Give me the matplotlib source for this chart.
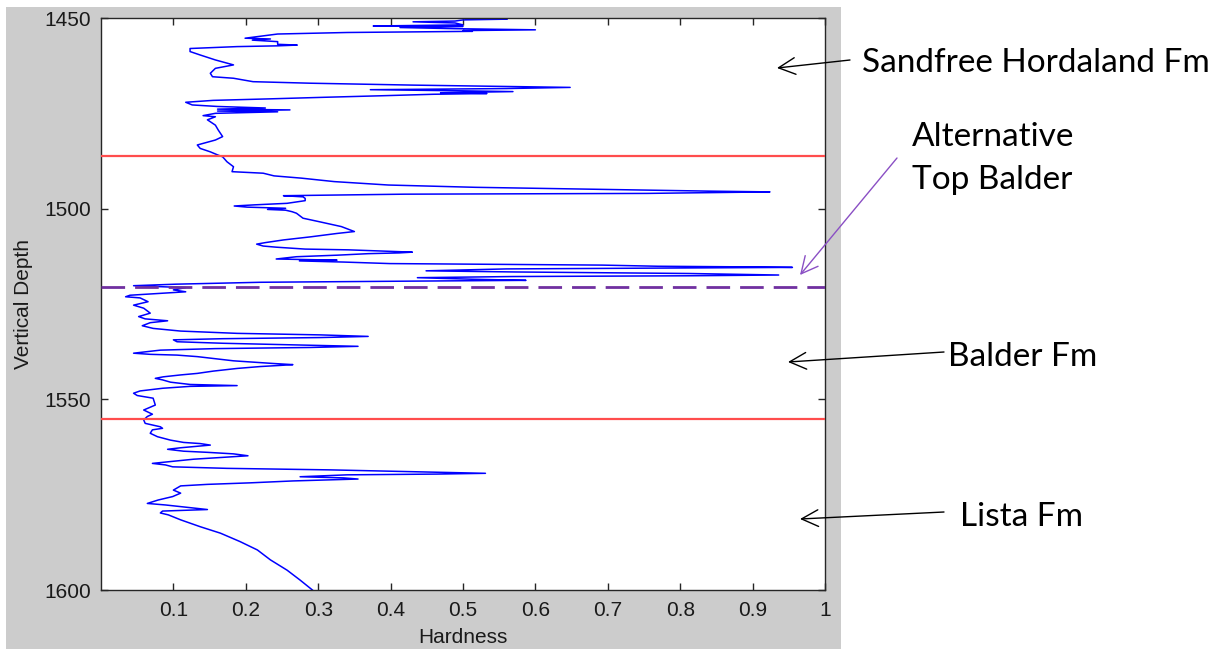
import matplotlib
matplotlib.use("Agg")
import matplotlib.pyplot as plt
from matplotlib.patches import Rectangle, FancyArrowPatch

# ---------------------------------------------------------------
# Hardness log versus vertical depth
# ---------------------------------------------------------------
depth_m = [
    1450.0, 1450.1, 1450.3, 1450.5, 1450.8, 1451.0, 1451.3, 1451.8, 1452.1, 1452.2,
    1452.5, 1452.8, 1453.0, 1453.1, 1453.3, 1453.5, 1453.8, 1454.2, 1455.3, 1455.5,
    1455.8, 1456.0, 1456.2, 1456.9, 1457.1, 1457.3, 1457.5, 1458.0, 1458.8, 1459.7,
    1461.0, 1462.3, 1463.2, 1464.5, 1465.4, 1465.8, 1466.7, 1467.1, 1467.6, 1468.0,
    1468.2, 1468.5, 1468.8, 1469.1, 1469.3, 1469.6, 1469.8, 1470.0, 1470.4, 1470.8,
    1471.2, 1471.6, 1472.1, 1472.8, 1473.2, 1473.6, 1473.9, 1474.1, 1474.4, 1474.6,
    1475.0, 1475.6, 1475.9, 1476.7, 1478.1, 1479.4, 1481.1, 1482.0, 1483.3, 1484.2,
    1485.1, 1485.9, 1486.4, 1487.7, 1489.0, 1490.3, 1490.7, 1491.4, 1492.0, 1492.9,
    1493.8, 1494.4, 1494.9, 1495.4, 1495.6, 1495.8, 1496.0, 1496.2, 1496.6, 1496.9,
    1497.3, 1497.9, 1498.6, 1499.0, 1499.3, 1499.6, 1499.9, 1500.2, 1500.4, 1500.8,
    1501.2, 1502.5, 1503.4, 1504.7, 1506.0, 1506.5, 1507.4, 1508.2, 1508.9, 1509.3,
    1509.8, 1510.1, 1510.6, 1510.8, 1511.2, 1511.4, 1511.6, 1511.8, 1512.2, 1512.6,
    1513.2, 1513.5, 1513.7, 1514.0, 1514.4, 1514.8, 1515.1, 1515.3, 1515.4, 1515.6,
    1515.8, 1516.3, 1516.6, 1517.0, 1517.4, 1517.6, 1517.8, 1518.1, 1518.5, 1518.8,
    1519.0, 1519.3, 1519.8, 1520.2, 1520.7, 1521.3, 1521.8, 1522.7, 1523.1, 1523.4,
    1524.4, 1525.3, 1526.1, 1527.4, 1528.3, 1528.9, 1529.4, 1529.9, 1530.7, 1531.4,
    1532.1, 1532.7, 1533.1, 1533.5, 1533.8, 1534.1, 1534.4, 1534.9, 1535.3, 1535.8,
    1536.1, 1536.4, 1536.7, 1537.1, 1537.5, 1537.9, 1538.2, 1538.4, 1538.8, 1539.2,
    1539.9, 1540.6, 1540.9, 1541.1, 1541.4, 1541.9, 1542.6, 1543.2, 1543.6, 1544.1,
    1544.5, 1544.9, 1545.5, 1546.1, 1546.4, 1546.6, 1547.1, 1547.8, 1548.4, 1549.0,
    1549.7, 1551.5, 1552.8, 1553.9, 1554.5, 1555.4, 1556.3, 1557.2, 1557.6, 1558.0,
    1558.9, 1559.8, 1560.7, 1561.3, 1561.6, 1562.0, 1562.7, 1563.1, 1563.6, 1563.9,
    1564.3, 1564.8, 1565.2, 1565.7, 1566.4, 1566.8, 1567.2, 1567.7, 1568.1, 1568.5,
    1569.1, 1569.4, 1569.6, 1569.8, 1570.3, 1570.6, 1570.9, 1571.4, 1571.9, 1572.3,
    1572.7, 1573.8, 1574.6, 1575.5, 1576.4, 1577.3, 1577.7, 1578.4, 1578.9, 1579.3,
    1579.8, 1580.3, 1581.6, 1583.4, 1585.1, 1587.3, 1589.5, 1592.1, 1594.8, 1597.4,
    1600.0,
]

hardness = [
    0.600, 0.503, 0.561, 0.500, 0.489, 0.431, 0.489, 0.500, 0.376, 0.500,
    0.413, 0.489, 0.561, 0.600, 0.500, 0.513, 0.340, 0.244, 0.199, 0.234,
    0.209, 0.227, 0.244, 0.244, 0.271, 0.244, 0.188, 0.123, 0.123, 0.137,
    0.158, 0.183, 0.158, 0.151, 0.154, 0.183, 0.210, 0.289, 0.431, 0.575,
    0.648, 0.560, 0.372, 0.500, 0.569, 0.469, 0.533, 0.459, 0.386, 0.307,
    0.234, 0.155, 0.117, 0.126, 0.161, 0.227, 0.161, 0.261, 0.161, 0.244,
    0.158, 0.141, 0.158, 0.147, 0.158, 0.162, 0.168, 0.158, 0.133, 0.137,
    0.151, 0.161, 0.168, 0.174, 0.183, 0.181, 0.224, 0.239, 0.277, 0.322,
    0.397, 0.517, 0.680, 0.840, 0.924, 0.840, 0.754, 0.419, 0.252, 0.279,
    0.282, 0.282, 0.257, 0.212, 0.184, 0.202, 0.255, 0.230, 0.255, 0.264,
    0.270, 0.279, 0.301, 0.332, 0.350, 0.326, 0.289, 0.252, 0.227, 0.215,
    0.224, 0.242, 0.282, 0.342, 0.399, 0.430, 0.412, 0.369, 0.326, 0.270,
    0.242, 0.326, 0.274, 0.335, 0.399, 0.692, 0.769, 0.917, 0.955, 0.769,
    0.560, 0.449, 0.572, 0.812, 0.936, 0.812, 0.567, 0.437, 0.513, 0.587,
    0.430, 0.221, 0.104, 0.045, 0.117, 0.100, 0.117, 0.040, 0.034, 0.054,
    0.065, 0.045, 0.059, 0.068, 0.052, 0.061, 0.092, 0.068, 0.057, 0.072,
    0.110, 0.188, 0.303, 0.369, 0.303, 0.168, 0.100, 0.105, 0.169, 0.289,
    0.355, 0.289, 0.158, 0.082, 0.063, 0.045, 0.068, 0.105, 0.133, 0.151,
    0.183, 0.238, 0.265, 0.248, 0.220, 0.188, 0.155, 0.133, 0.110, 0.086,
    0.075, 0.085, 0.096, 0.123, 0.188, 0.123, 0.085, 0.054, 0.045, 0.050,
    0.072, 0.075, 0.059, 0.071, 0.064, 0.059, 0.061, 0.082, 0.085, 0.071,
    0.068, 0.078, 0.096, 0.114, 0.137, 0.151, 0.110, 0.092, 0.114, 0.147,
    0.183, 0.203, 0.169, 0.128, 0.092, 0.071, 0.089, 0.099, 0.174, 0.317,
    0.459, 0.531, 0.464, 0.340, 0.275, 0.335, 0.355, 0.265, 0.206, 0.147,
    0.110, 0.100, 0.110, 0.099, 0.079, 0.064, 0.089, 0.123, 0.147, 0.085,
    0.082, 0.093, 0.110, 0.137, 0.165, 0.192, 0.216, 0.234, 0.257, 0.275,
    0.292,
]

# Formation boundaries (m)
top_balder_depth = 1486.2
alt_top_balder_depth = 1520.6
top_lista_depth = 1555.1

x_ticks = [0.1, 0.2, 0.3, 0.4, 0.5, 0.6, 0.7, 0.8, 0.9, 1.0]
x_tick_labels = ["0.1", "0.2", "0.3", "0.4", "0.5", "0.6", "0.7", "0.8", "0.9", "1"]
y_ticks = [1450, 1500, 1550, 1600]

formation_labels = ["Sandfree Hordaland Fm", "Alternative\nTop Balder", "Balder Fm", "Lista Fm"]

# ---------------------------------------------------------------
W, H = 1226, 651
fig = plt.figure(figsize=(W / 100, H / 100), dpi=100)
fig.patch.set_facecolor("white")

tick_font = ["Liberation Sans", "DejaVu Sans"]
note_font = ["Lato", "DejaVu Sans"]


def fx(px):
    return px / W


def fy(py):
    return 1 - py / H


# grey plotting window behind the axes
fig.add_artist(Rectangle((fx(6), fy(649)), fx(841) - fx(6), fy(7) - fy(649),
                         transform=fig.transFigure, facecolor="#cccccc",
                         edgecolor="none", zorder=-5))

ax = fig.add_axes([fx(101), fy(590), fx(825) - fx(101), fy(18) - fy(590)])
ax.set_facecolor("white")

ax.plot(hardness, depth_m, color="#0000ff", lw=1.1, zorder=2)

ax.axhline(top_balder_depth, color="#ff4d4d", lw=1.6, zorder=3)
ax.axhline(top_lista_depth, color="#ff4d4d", lw=1.6, zorder=3)
ax.axhline(alt_top_balder_depth, color="#7030a0", lw=2.0, zorder=3,
           linestyle=(0, (8.5, 3.6)), dash_capstyle="butt")

ax.set_xlim(0, 1)
ax.set_ylim(1600, 1450)
ax.set_xticks(x_ticks)
ax.set_xticklabels(x_tick_labels)
ax.set_yticks(y_ticks)

for sp in ax.spines.values():
    sp.set_color("#262626")
    sp.set_linewidth(1.0)

ax.tick_params(direction="in", length=5, width=1.0, color="#262626",
               top=True, right=True, labelsize=15, labelcolor="#1a1a1a")
ax.tick_params(axis="x", pad=8)
ax.tick_params(axis="y", pad=7)
for lab in ax.get_xticklabels() + ax.get_yticklabels():
    lab.set_family(tick_font)

ax.set_xlabel("Hardness", fontsize=15, family=tick_font, color="#1a1a1a", labelpad=6)
ax.set_ylabel("Vertical Depth", fontsize=15, family=tick_font, color="#1a1a1a", labelpad=8)

# formation notes with arrows
note_kw = dict(fontsize=24, family=note_font, color="black", ha="left", va="baseline")
alt_line1, alt_line2 = formation_labels[1].split("\n")
fig.text(fx(862), fy(72), formation_labels[0], **note_kw)
fig.text(fx(912), fy(146), alt_line1, **note_kw)
fig.text(fx(912), fy(189), alt_line2, **note_kw)
fig.text(fx(948), fy(366), formation_labels[2], **note_kw)
fig.text(fx(960), fy(526), formation_labels[3], **note_kw)


def arrow(tail, head, color):
    fig.add_artist(FancyArrowPatch(
        (fx(tail[0]), fy(tail[1])), (fx(head[0]), fy(head[1])),
        transform=fig.transFigure, arrowstyle="->,head_length=0.6,head_width=0.3",
        mutation_scale=20, color=color, lw=1.0, shrinkA=0, shrinkB=0, zorder=5))


arrow((850, 60), (777, 68), "black")
arrow((897, 158), (800, 275), "#8a4fc4")
arrow((944, 352), (788, 362), "black")
arrow((944, 512), (800, 519), "black")

fig.savefig("out.png", dpi=100, facecolor=fig.get_facecolor())
